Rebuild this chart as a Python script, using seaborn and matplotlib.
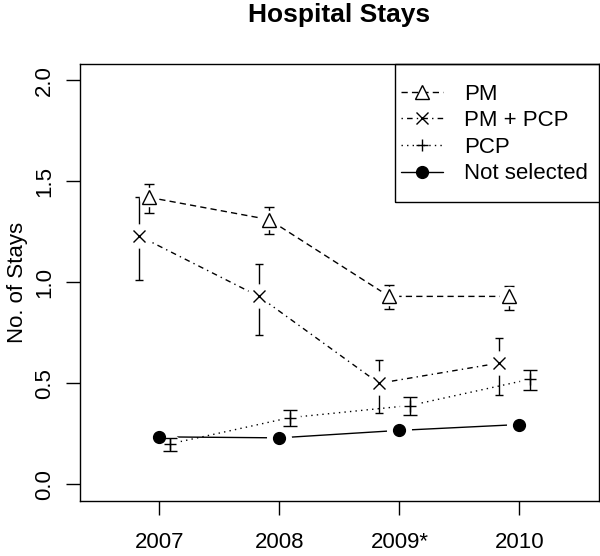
import numpy as np
import matplotlib
matplotlib.use("Agg")
import matplotlib.pyplot as plt
import seaborn as sns
from matplotlib.lines import Line2D
from matplotlib.patches import Rectangle

# values
years = ['2007', '2008', '2009*', '2010']

pm_mean = [1.42, 1.31, 0.93, 0.93]
pm_lo = [1.345, 1.24, 0.87, 0.865]
pm_hi = [1.485, 1.37, 0.985, 0.98]

pmpcp_mean = [1.23, 0.93, 0.50, 0.60]
pmpcp_lo = [1.01, 0.74, 0.355, 0.44]
pmpcp_hi = [1.42, 1.09, 0.615, 0.725]

pcp_mean = [0.20, 0.33, 0.39, 0.52]
pcp_lo = [0.165, 0.29, 0.345, 0.465]
pcp_hi = [0.228, 0.37, 0.433, 0.568]

notsel_mean = [0.235, 0.23, 0.267, 0.296]

sns.set_style('ticks')
plt.rcParams['font.family'] = ['Liberation Sans', 'DejaVu Sans']
plt.rcParams['axes.edgecolor'] = 'black'
plt.rcParams['text.color'] = 'black'
plt.rcParams['xtick.color'] = 'black'
plt.rcParams['ytick.color'] = 'black'
plt.rcParams['axes.labelcolor'] = 'black'

fig, ax = plt.subplots(figsize=(6, 5.56), dpi=100)
fig.subplots_adjust(left=80/600, right=598.7/600, bottom=1-500.5/556, top=1-64/556)

x = np.arange(1, 5)
series = [
    dict(name='PM', mean=pm_mean, lo=pm_lo, hi=pm_hi, shift=-0.085,
         marker='^', ms=10, mfc='white', ls=(0, (4.5, 3)), cap=3.6, halo=13, ezorder=1.5),
    dict(name='PM + PCP', mean=pmpcp_mean, lo=pmpcp_lo, hi=pmpcp_hi, shift=-0.17,
         marker='x', ms=8, mfc='black', ls=(0, (1, 3, 4, 3)), cap=3.2, halo=16.5, ezorder=1.5),
    dict(name='PCP', mean=pcp_mean, lo=pcp_lo, hi=pcp_hi, shift=0.0875,
         marker='+', ms=8, mfc='black', ls=(0, (1, 3)), cap=5.3, halo=14, ezorder=4),
    dict(name='Not selected', mean=notsel_mean, lo=None, hi=None, shift=0.0,
         marker='o', ms=8.5, mfc='black', ls='-', cap=0, halo=17, ezorder=1.5),
]

handles = []
for s in series:
    xs = x + s['shift']
    mean = np.array(s['mean'])
    sns.lineplot(x=xs, y=mean, ax=ax, color='black', lw=1, linestyle=s['ls'],
                 errorbar=None, zorder=1)
    if s['lo'] is not None:
        err = [mean - np.array(s['lo']), np.array(s['hi']) - mean]
        ax.errorbar(xs, mean, yerr=err, fmt='none', ecolor='black', elinewidth=1,
                    capsize=s['cap'], capthick=1, zorder=s['ezorder'])
    # white halo so lines stop short of the symbol
    ax.plot(xs, mean, ls='none', marker='o', ms=s['halo'], mfc='white', mec='white',
            zorder=2)
    ax.plot(xs, mean, ls='none', marker=s['marker'], ms=s['ms'], mfc=s['mfc'],
            mec='black', mew=1, zorder=5)
    handles.append(Line2D([], [], color='black', lw=1, linestyle=s['ls'],
                          marker=s['marker'], ms=s['ms'], mfc=s['mfc'], mec='black',
                          mew=1, label=s['name']))

ax.set_xlim(0.34, 4.66)
ax.set_ylim(-0.08, 2.08)
ax.set_xticks(x)
ax.set_xticklabels(years)
yt = [0.0, 0.5, 1.0, 1.5, 2.0]
ax.set_yticks(yt)
ax.set_yticklabels([f'{v:.1f}' for v in yt], rotation=90, va='center')
ax.tick_params(axis='both', direction='out', length=10, width=1, labelsize=16)
ax.tick_params(axis='x', pad=12.5)
ax.tick_params(axis='y', pad=8)
for sp in ax.spines.values():
    sp.set_visible(True)
    sp.set_linewidth(1)
    sp.set_color('black')

ax.set_xlabel('')
ax.set_ylabel('No. of Stays', fontsize=16, labelpad=4)
ax.set_title('Hospital Stays', fontsize=19, fontweight='bold', pad=30)

ax.add_patch(Rectangle((0.607, 0.683), 0.5, 0.317, transform=ax.transAxes,
                       fill=False, edgecolor='black', lw=1, clip_on=False, zorder=6))
ax.legend(handles=handles, loc='upper left', bbox_to_anchor=(0.618, 0.955),
          frameon=False, borderpad=0, borderaxespad=0, fontsize=16,
          handlelength=1.92, handletextpad=0.95, labelspacing=0.25)

fig.savefig('out.png', dpi=100)
